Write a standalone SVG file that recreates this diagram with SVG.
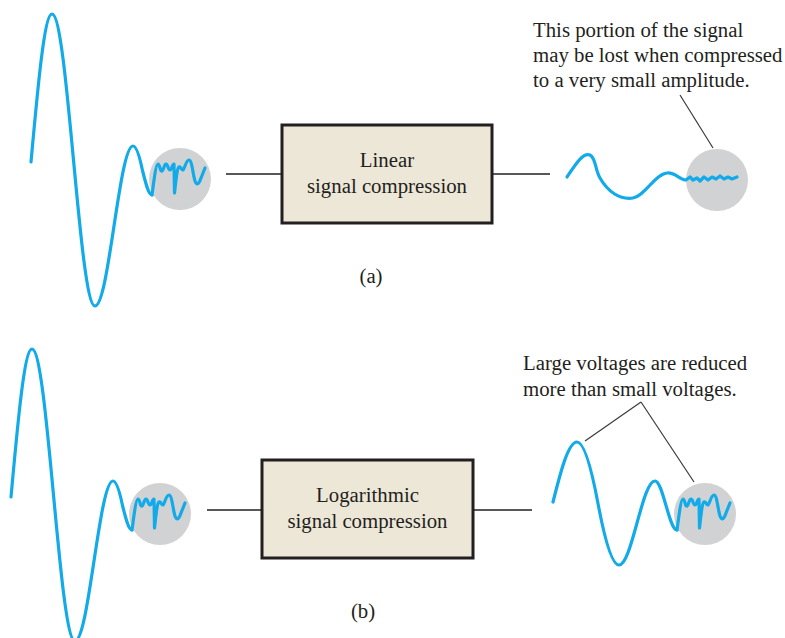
<svg xmlns="http://www.w3.org/2000/svg" xmlns:xlink="http://www.w3.org/1999/xlink" width="785" height="638" viewBox="0 0 785 638">
<style>
.t{font-family:"Liberation Serif","Times New Roman",serif;font-size:20.8px;fill:#231f20}
.c{text-anchor:middle}
.w{fill:none;stroke:#12aae8;stroke-width:3.2;stroke-linecap:round;stroke-linejoin:round}
.disk{fill:#d1d2d4}
.box{fill:#ede7d8;stroke:#231f20;stroke-width:3}
.ln{fill:none;stroke:#231f20;stroke-width:1.3}
.ld{fill:none;stroke:#3a3a3a;stroke-width:1.2}
</style>
<defs>
<path id="wave" d="M31,162 C37.9,86 44.4,14 52,14 C59.8,14 66.5,85 73.5,160 C80.5,235 87.2,306 95,306 C101.9,306 107.8,267 114,226 C120.2,185 126.1,146 133,146 C136.4,146 139.9,158 142.5,170.5 C145.6,183 148.6,195 152,195"/>
<path id="sq" d="M152,195 C154,180 156,164 158,164 C160,164 160,172 162,171 C164,170 164,164 166,164 C168,164 168,170 170,170 C172,170 172,164 174,164 L174.5,193 C176,180 177,168 179,167 C181,166 181,170 183,170 C185,168 186,160 189,160 C192,160 193,175 195,181 C197,186 199,184 201,178 L205,168"/>
</defs>

<g id="input-a">
<circle class="disk" cx="180" cy="179" r="31"/>
<use xlink:href="#wave" class="w"/>
<use xlink:href="#sq" class="w"/>
</g>

<g id="box-a">
<rect class="box" x="282" y="125" width="210" height="98"/>
<text class="t c" x="387" y="167">Linear</text>
<text class="t c" x="387" y="193">signal compression</text>
</g>

<g id="output-a">
<circle class="disk" cx="717" cy="180" r="31"/>
<path class="w" d="M567,177 C575,165 583,152 590,155 C596,158 595,170 600,178 C608,192 620,200 633,198 C645,196 655,174 667,173 C675,172 680,180 686,180 L690,177 L693,180 L697,178 L700,181 L704,177 L708,180 L712,177 L716,179 L720,176 L724,179 L728,177 L732,179 L737,177"/>
</g>

<g id="note-a">
<text class="t" x="533" y="37">This portion of the signal</text>
<text class="t" x="533" y="62">may be lost when compressed</text>
<text class="t" x="533" y="87">to a very small amplitude.</text>
</g>

<g id="label-a"><text class="t c" x="371" y="283">(a)</text></g>

<g id="input-b">
<circle class="disk" cx="160" cy="514" r="31"/>
<use xlink:href="#wave" class="w" transform="translate(-20,335)"/>
<use xlink:href="#sq" class="w" transform="translate(-20,335)"/>
</g>

<g id="box-b">
<rect class="box" x="262" y="460" width="211" height="98"/>
<text class="t c" x="367.5" y="502">Logarithmic</text>
<text class="t c" x="367.5" y="528">signal compression</text>
</g>

<g id="output-b">
<circle class="disk" cx="705" cy="514" r="31"/>
<path class="w" d="M553,502 C560.8,471 568.3,442 577,442 C584.6,442 592.1,472 598,503.5 C603.9,535 611.4,565 619,565 C625.5,565 631.1,544.5 637,523 C642.9,501.5 648.5,481 655,481 C659,481 662.4,493 666,505.5 C669.6,518 673,530 677,530"/>
<use xlink:href="#sq" class="w" transform="translate(525,335)"/>
</g>

<g id="note-b">
<text class="t" x="523" y="370">Large voltages are reduced</text>
<text class="t" x="523" y="396">more than small voltages.</text>
</g>

<g id="label-b"><text class="t c" x="363" y="618">(b)</text></g>

<g id="connectors">
<line class="ln" x1="226" y1="174" x2="282" y2="174"/>
<line class="ln" x1="492" y1="174" x2="550" y2="174"/>
<line class="ln" x1="207" y1="510" x2="262" y2="510"/>
<line class="ln" x1="473" y1="510" x2="532" y2="510"/>
<line class="ld" x1="680" y1="95" x2="713" y2="148"/>
<line class="ld" x1="585" y1="441" x2="641" y2="402"/>
<line class="ld" x1="641" y1="402" x2="694" y2="482"/>
</g>
</svg>
